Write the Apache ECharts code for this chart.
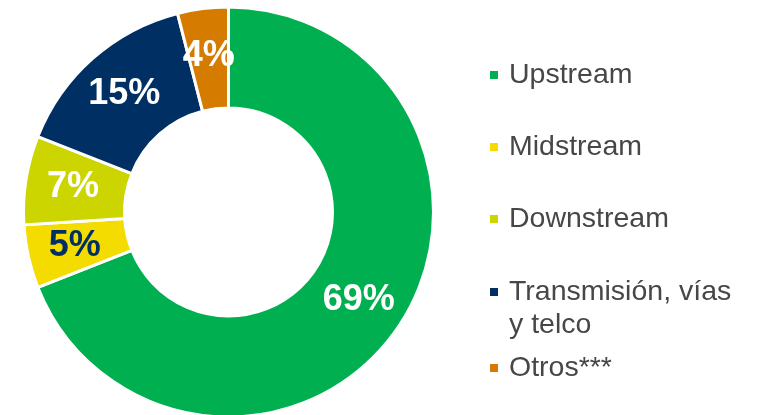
<!DOCTYPE html>
<html>
<head>
<meta charset="utf-8">
<script src="https://cdn.jsdelivr.net/npm/echarts@6/dist/echarts.min.js"></script>
<style>
  html, body { margin: 0; padding: 0; background: #fff; }
  #main { width: 766px; height: 415px; }
</style>
</head>
<body>
<div id="main"></div>
<script>
// datos del gráfico
var categories = ['Upstream', 'Midstream', 'Downstream', 'Transmisión, vías\ny telco', 'Otros***'];
var values = [69, 5, 7, 15, 4];
var colors = ['#00b050', '#f5dc00', '#ccd500', '#003063', '#d47b00'];
var labelColors = ['#fff', '#003063', '#fff', '#fff', '#fff'];

var myChart = echarts.init(document.getElementById('main'));

var legendText = {
    fontFamily: 'Liberation Sans, Arial, sans-serif',
    fontSize: 28.5,
    color: '#474747',
    lineHeight: 33,
    padding: [0, 0, 0, 5]
};

function legendBox(names, top, fmt) {
    var box = {
        orient: 'vertical',
        left: 488,
        top: top,
        padding: 0,
        itemGap: 39,
        itemWidth: 10,
        itemHeight: 10,
        icon: 'rect',
        selectedMode: false,
        textStyle: legendText,
        data: names
    };
    if (fmt) box.formatter = fmt;
    return box;
}

var option = {
    animation: false,
    legend: [
        legendBox(categories.slice(0, 3), 58.5),
        // línea vacía arriba para que el cuadro quede en la primera línea
        legendBox([categories[3]], 242.5, function (n) { return '\n' + n; }),
        legendBox([categories[4]], 351.5)
    ],
    series: [{
        type: 'pie',
        center: [228.5, 212],
        radius: [104, 205],
        startAngle: 90,
        clockwise: true,
        avoidLabelOverlap: false,
        label: {
            show: true,
            position: 'inside',
            formatter: '{c}%',
            fontFamily: 'Liberation Sans, Arial, sans-serif',
            fontWeight: 'bold',
            fontSize: 36
        },
        labelLine: { show: false },
        itemStyle: { borderColor: '#fff', borderWidth: 3 },
        emphasis: { disabled: true },
        data: categories.map(function (name, i) {
            return {
                name: name,
                value: values[i],
                itemStyle: { color: colors[i] },
                label: { color: labelColors[i] }
            };
        })
    }]
};

myChart.setOption(option);
</script>
</body>
</html>
